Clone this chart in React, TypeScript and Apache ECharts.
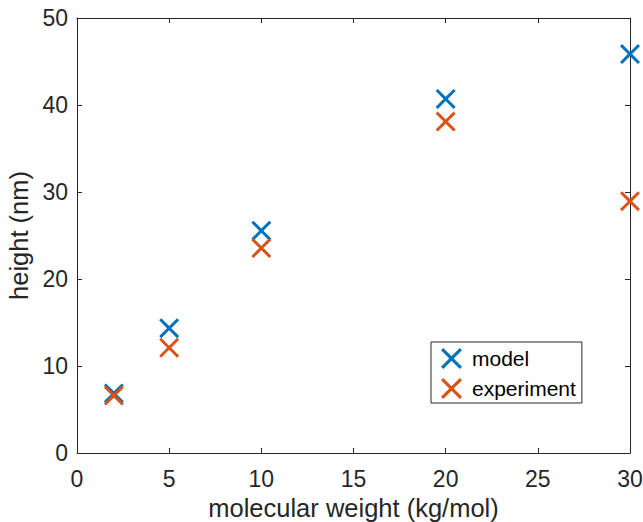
import React, { useEffect, useRef } from "react";
import * as echarts from "echarts";

const molecularWeight = [2, 5, 10, 20, 30];
const modelHeight = [6.85, 14.35, 25.55, 40.7, 45.85];
const experimentHeight = [6.6, 12.1, 23.55, 38.1, 28.95];
const seriesNames = ["model", "experiment"];
const seriesColors = ["#0072BD", "#D95319"];

const d = 10.5;
const crossPath =
  "path://M" +
  [
    [d, 0], [50, 50 - d], [100 - d, 0], [100, d], [50 + d, 50], [100, 100 - d],
    [100 - d, 100], [50, 50 + d], [d, 100], [0, 100 - d], [50 - d, 50], [0, d],
  ]
    .map((p) => p.join(" "))
    .join("L") +
  "Z";

const FONT = "'Liberation Sans', Arial, Helvetica, sans-serif";
const INK = "#262626";

export default function App() {
  const ref = useRef<HTMLDivElement>(null);
  useEffect(() => {
    if (!ref.current) return;
    const chart = echarts.init(ref.current, undefined, { renderer: "svg" });
    const axisLine = { show: true, onZero: false, lineStyle: { color: INK, width: 1 } };
    const tick = { show: true, inside: true, length: 5, lineStyle: { color: INK, width: 1 } };
    chart.setOption({
      animation: false,
      backgroundColor: "#ffffff",
      textStyle: { fontFamily: FONT },
      grid: {
        left: 77,
        right: 13,
        top: 18,
        bottom: 69,
        containLabel: false,
        outerBoundsMode: "none",
      },
      legend: {
        orient: "vertical",
        left: 431,
        top: 342,
        data: seriesNames,
        icon: crossPath,
        itemWidth: 21,
        itemHeight: 21,
        itemGap: 9,
        padding: [6, 6, 4, 10],
        borderColor: INK,
        borderWidth: 1,
        borderRadius: 0,
        backgroundColor: "#ffffff",
        textStyle: { fontSize: 21, color: "#000000", fontFamily: FONT, padding: [0, 0, 0, 5] },
      },
      xAxis: [
        {
          type: "value",
          position: "bottom",
          min: 0,
          max: 30,
          interval: 5,
          name: "molecular weight (kg/mol)",
          nameLocation: "middle",
          nameGap: 42,
          nameTextStyle: { fontSize: 25.5, color: INK, fontFamily: FONT },
          axisLine,
          axisTick: tick,
          axisLabel: { fontSize: 23, color: INK, margin: 14, fontFamily: FONT },
          splitLine: { show: false },
        },
        {
          type: "value",
          position: "top",
          min: 0,
          max: 30,
          interval: 5,
          axisLine,
          axisTick: tick,
          axisLabel: { show: false },
          splitLine: { show: false },
        },
      ],
      yAxis: [
        {
          type: "value",
          position: "left",
          min: 0,
          max: 50,
          interval: 10,
          name: "height (nm)",
          nameLocation: "middle",
          nameGap: 42,
          nameTextStyle: { fontSize: 25.5, color: INK, fontFamily: FONT },
          axisLine,
          axisTick: tick,
          axisLabel: { fontSize: 23, color: INK, margin: 9, fontFamily: FONT },
          splitLine: { show: false },
        },
        {
          type: "value",
          position: "right",
          min: 0,
          max: 50,
          interval: 10,
          axisLine,
          axisTick: tick,
          axisLabel: { show: false },
          splitLine: { show: false },
        },
      ],
      series: [
        {
          name: seriesNames[0],
          type: "scatter",
          symbol: crossPath,
          symbolSize: 20,
          clip: false,
          itemStyle: { color: seriesColors[0], opacity: 1 },
          data: molecularWeight.map((x, i) => [x, modelHeight[i]]),
        },
        {
          name: seriesNames[1],
          type: "scatter",
          symbol: crossPath,
          symbolSize: 20,
          clip: false,
          itemStyle: { color: seriesColors[1], opacity: 1 },
          data: molecularWeight.map((x, i) => [x, experimentHeight[i]]),
        },
      ],
    });
    return () => chart.dispose();
  }, []);
  return (
    <div
      ref={ref}
      style={{ position: "fixed", left: 0, top: 0, width: 643, height: 522 }}
    />
  );
}
